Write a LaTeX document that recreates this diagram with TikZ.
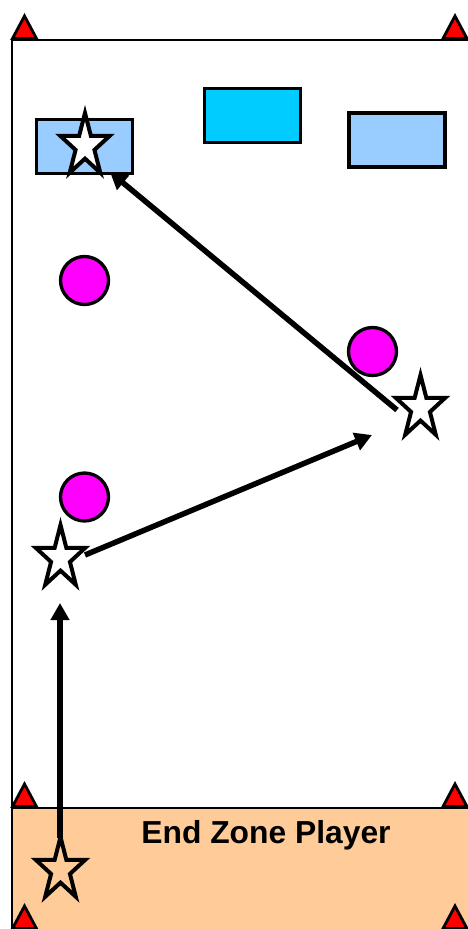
\documentclass[tikz,border=0pt]{standalone}
\usepackage{fontspec}
\setmainfont{Liberation Sans}
\usetikzlibrary{shapes.geometric,arrows.meta}
\definecolor{peach}{HTML}{FFCC99}
\definecolor{lightblue}{HTML}{99CCFF}
\definecolor{cyanbox}{HTML}{00CCFF}
\definecolor{disccol}{HTML}{FF00FF}
\definecolor{conered}{HTML}{FF0000}
\begin{document}
\begin{tikzpicture}[x=1pt,y=-1pt,
  fieldline/.style={draw=black,line width=1.8pt},
  cone/.style={fill=conered,draw=black,line width=2.8pt,line join=miter},
  block/.style={rectangle,draw=black,line width=3.5pt,minimum width=96pt,minimum height=54pt,inner sep=0pt},
  disc/.style={circle,fill=disccol,draw=black,line width=3.3pt,minimum size=48pt,inner sep=0pt},
  player/.style={star,star points=5,star point ratio=2.618,draw=black,fill=white,line width=4pt,inner sep=0pt,minimum size=52pt,yscale=1.27,transform shape},
  pass/.style={line width=5.5pt,-{Triangle[length=17pt,width=18pt]}}]
\useasboundingbox (0,0) rectangle (467,929);
% end zone
\fill[peach] (12,808) rectangle (470,932);
% field lines
\draw[fieldline] (12,932) -- (12,40) -- (470,40);
\draw[fieldline] (12,808) -- (470,808);
% cones
\foreach \cx/\cy in {24.5/40, 455/40, 24.5/808, 455/808, 24.5/930, 455/930}{
  \draw[cone] (\cx-12,\cy-1.5) -- (\cx,\cy-24) -- (\cx+12,\cy-1.5) -- cycle;
}
% blocks
\node[block,fill=lightblue] (boxA) at (84.5,146.5) {};
\node[block,fill=cyanbox] (boxB) at (252.5,115.5) {};
\node[block,fill=lightblue] (boxC) at (397,140) {};
% discs
\node[disc] (discA) at (84.5,280.5) {};
\node[disc] (discB) at (372.5,351.5) {};
\node[disc] (discC) at (84.5,497) {};
% text
\node[anchor=base,font=\fontsize{31.8}{36}\selectfont\bfseries,inner sep=0pt] (label) at (266,843) {End Zone Player};
% players
\node[player] (pA) at (85,146) {};
\node[player] (pR) at (420.5,408) {};
\node[player] (pB) at (60.5,558) {};
\node[player,fill=peach] (pD) at (60.5,870) {};
% pass endpoints
\coordinate (a1s) at (60,838);
\coordinate (a1e) at (60,603);
\coordinate (a2s) at (85,555);
\coordinate (a2e) at (372,435);
\coordinate (a3s) at (397,410);
\coordinate (a3e) at (110,172);
\draw[pass] (a1s) -- (a1e);
\draw[pass] (a2s) -- (a2e);
\draw[pass] (a3s) -- (a3e);
\end{tikzpicture}
\end{document}
